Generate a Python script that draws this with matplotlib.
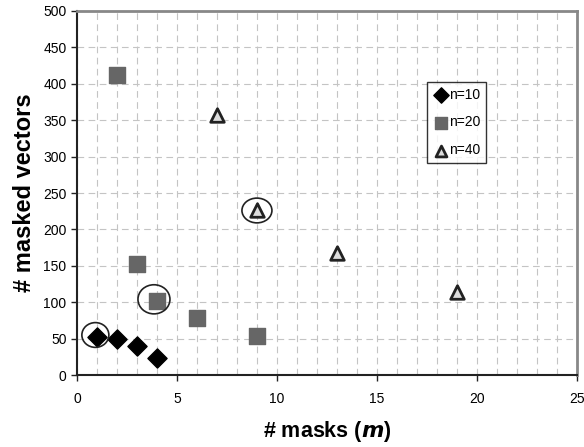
import matplotlib
matplotlib.use("Agg")
import matplotlib.pyplot as plt
from matplotlib.patches import Ellipse
from matplotlib.ticker import MultipleLocator

plt.rcParams['font.family'] = ['Liberation Sans', 'DejaVu Sans']

# Data
n10_x = [1, 2, 3, 4]
n10_y = [52, 50, 40, 24]
n20_x = [2, 3, 4, 6, 9]
n20_y = [412, 153, 101, 78, 54]
n40_x = [7, 9, 13, 19]
n40_y = [357, 226, 168, 114]
labels = ['n=10', 'n=20', 'n=40']
# highlighted points (circled)
circ_x = [0.92, 3.85, 9.0]
circ_y = [55, 104, 226]
circ_w = [1.35, 1.6, 1.5]
circ_h = [34, 40, 34]

fig = plt.figure(figsize=(5.84, 4.47), dpi=100)
ax = fig.add_axes([0.1318, 0.161, 0.856, 0.8144])

ax.set_xlim(0, 25)
ax.set_ylim(0, 500)
ax.xaxis.set_major_locator(MultipleLocator(5))
ax.xaxis.set_minor_locator(MultipleLocator(1))
ax.yaxis.set_major_locator(MultipleLocator(50))

ax.grid(True, which='both', axis='x', color='#c4c4c4', linestyle=(0, (6, 4)), linewidth=0.8)
ax.grid(True, which='major', axis='y', color='#c4c4c4', linestyle=(0, (6, 4)), linewidth=0.8)
ax.set_axisbelow(True)

ax.scatter(n10_x, n10_y, marker='D', s=95, color='#000000', label=labels[0], zorder=3)
ax.scatter(n20_x, n20_y, marker='s', s=120, color='#666666', label=labels[1], zorder=3)
ax.scatter(n40_x, n40_y, marker='^', s=95, facecolor='#dddddd', edgecolor='#222222',
           linewidths=2, label=labels[2], zorder=3)

for cx, cy, w, h in zip(circ_x, circ_y, circ_w, circ_h):
    ax.add_patch(Ellipse((cx, cy), w, h, fill=False, edgecolor='#222222', linewidth=1.2, zorder=4))

for s in ['top', 'right']:
    ax.spines[s].set_color('#888888')
    ax.spines[s].set_linewidth(2)
for s in ['left', 'bottom']:
    ax.spines[s].set_color('#222222')
    ax.spines[s].set_linewidth(1.5)

ax.tick_params(axis='both', which='major', direction='out', length=4, width=1, labelsize=10,
               color='#222222')
ax.tick_params(axis='both', which='minor', length=0)
ax.tick_params(axis='x', pad=8.5)

ax.set_xlabel('# masks ($\\mathbfit{m}$)', fontsize=15.5, fontweight='bold', labelpad=9)
ax.set_ylabel('# masked vectors', fontsize=17, fontweight='bold', labelpad=5)

leg = ax.legend(loc='upper left', bbox_to_anchor=(0.70, 0.805), frameon=True, fancybox=False,
                edgecolor='#000000', fontsize=10, handletextpad=0.0, borderpad=0.4,
                labelspacing=1.0, handlelength=1.2, borderaxespad=0, markerscale=0.8)
leg.get_frame().set_linewidth(1)

fig.savefig('out.png', dpi=100)
